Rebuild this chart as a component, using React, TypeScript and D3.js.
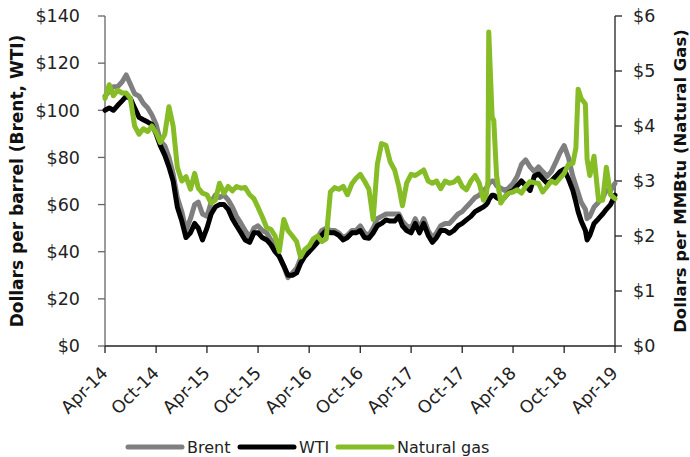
import React from "react";
import * as d3 from "d3";

// semi-monthly readings, plus a few extra weeks around the gas spikes
const dates = [
  // 2014
  "2014-04-01", "2014-04-16", "2014-05-01", "2014-05-16", "2014-06-01", "2014-06-16",
  "2014-07-01", "2014-07-16", "2014-08-01", "2014-08-16", "2014-09-01", "2014-09-16",
  "2014-10-01", "2014-10-16", "2014-11-01", "2014-11-16", "2014-12-01", "2014-12-16",
  // 2015
  "2015-01-01", "2015-01-16", "2015-02-01", "2015-02-16", "2015-03-01", "2015-03-16",
  "2015-04-01", "2015-04-16", "2015-05-01", "2015-05-16", "2015-06-01", "2015-06-16",
  "2015-07-01", "2015-07-16", "2015-08-01", "2015-08-16", "2015-09-01", "2015-09-16",
  "2015-10-01", "2015-10-16", "2015-11-01", "2015-11-16", "2015-12-01", "2015-12-16",
  // 2016
  "2016-01-01", "2016-01-16", "2016-02-01", "2016-02-16", "2016-03-01", "2016-03-16",
  "2016-04-01", "2016-04-16", "2016-05-01", "2016-05-16", "2016-06-01", "2016-06-16",
  "2016-07-01", "2016-07-16", "2016-08-01", "2016-08-16", "2016-09-01", "2016-09-16",
  "2016-10-01", "2016-10-16", "2016-11-01", "2016-11-16", "2016-12-01", "2016-12-16",
  // 2017
  "2017-01-01", "2017-01-16", "2017-02-01", "2017-02-16", "2017-03-01", "2017-03-16",
  "2017-04-01", "2017-04-16", "2017-05-01", "2017-05-16", "2017-06-01", "2017-06-16",
  "2017-07-01", "2017-07-16", "2017-08-01", "2017-08-16", "2017-09-01", "2017-09-16",
  "2017-10-01", "2017-10-16", "2017-11-01", "2017-11-16", "2017-12-01", "2017-12-16",
  "2017-12-26",
  // 2018
  "2018-01-01", "2018-01-04", "2018-01-16", "2018-01-22", "2018-02-01", "2018-02-16",
  "2018-03-01", "2018-03-16", "2018-04-01", "2018-04-16", "2018-05-01", "2018-05-16",
  "2018-06-01", "2018-06-16", "2018-07-01", "2018-07-16", "2018-08-01", "2018-08-16",
  "2018-09-01", "2018-09-16", "2018-10-01", "2018-10-16", "2018-11-01", "2018-11-12",
  "2018-11-20", "2018-12-01", "2018-12-16", "2018-12-22",
  // 2019
  "2019-01-01", "2019-01-16", "2019-02-01", "2019-02-16", "2019-03-01", "2019-03-16",
  "2019-04-01",
];

const brent = [
  106, 108, 110, 110, 112, 115, 111, 107, 106, 103, 101, 98, 94, 87, 85, 80, 73, 63,
  57, 49, 54, 60, 61, 56, 55, 61, 64, 63, 64, 62, 59, 55, 52, 49, 46, 50, 51, 49, 48, 45, 43, 38,
  34, 29, 31, 33, 37, 40, 41, 44, 46, 49, 50, 49, 49, 48, 46, 47, 49, 49, 51, 48, 47, 50, 54, 55,
  56, 56, 56, 56, 53, 51, 50, 54, 50, 54, 49, 46, 48, 51, 52, 52, 54, 56, 57, 59, 61, 63, 64, 66,
  67,
  68, 69, 70, 70, 68, 67, 66, 67, 69, 72, 77, 79, 76, 74, 76, 74, 72, 74, 78, 82, 85, 80, 72, 68,
  65, 61, 58, 54,
  55, 59, 61, 63, 66, 66, 69,
];

const wti = [
  100, 101, 100, 102, 104, 106, 105, 101, 97, 96, 95, 94, 90, 85, 81, 76, 70, 59,
  53, 46, 48, 52, 50, 45, 50, 56, 59, 60, 60, 58, 54, 51, 48, 45, 44, 48, 48, 46, 45, 43, 40, 38,
  34, 30, 30, 31, 35, 38, 40, 42, 44, 47, 49, 48, 48, 47, 45, 46, 48, 48, 49, 46, 45.7, 48, 51, 52,
  53.5, 53, 53, 55, 51, 49, 48, 52, 48, 52, 47, 44, 46, 49, 49, 47.8, 49, 51, 52, 53.5, 55, 57, 58, 59,
  60,
  61, 62, 64, 64, 63, 62, 63, 65, 66, 68, 70, 68, 66, 72, 73, 71, 69, 70, 72, 74, 75, 71, 66, 61,
  57, 53, 49, 45,
  47, 52, 54, 56, 58, 60, 64,
];

const gas = [
  4.5, 4.75, 4.55, 4.65, 4.6, 4.6, 4.5, 4.0, 3.85, 3.95, 3.9, 4.0, 3.88, 3.7, 3.85, 4.35, 4.0, 3.25,
  3.0, 3.08, 2.85, 3.14, 2.87, 2.78, 2.75, 2.6, 2.65, 2.96, 2.78, 2.9,
  2.82, 2.9, 2.87, 2.88, 2.75, 2.68, 2.52, 2.35, 2.15, 2.12, 2.0, 1.72,
  2.3, 2.1, 2.0, 1.9, 1.62, 1.75, 1.82, 1.95, 2.0, 1.9, 1.95, 2.8,
  2.88, 2.85, 2.9, 2.75, 2.95, 3.05, 3.12, 3.0, 2.85, 2.3, 3.3, 3.68,
  3.65, 3.35, 3.2, 2.9, 2.55, 2.96, 3.12, 3.1, 3.15, 3.2, 3.0, 2.96,
  3.0, 2.86, 3.0, 2.96, 2.98, 3.05, 2.9, 2.84, 3.0, 3.1, 2.96, 2.65,
  2.75,
  3.0, 5.71, 4.17, 4.1, 3.1, 2.6, 2.7, 2.78, 2.8, 2.84, 2.78, 2.9, 2.99, 2.97, 2.96, 2.8,
  2.9, 3.0, 2.96, 3.05, 3.14, 3.3, 3.32, 3.6, 4.67, 4.5, 4.4, 3.4,
  3.1, 3.45, 2.65, 2.65, 3.25, 2.75, 2.68,
];

const oilTicks = [0, 20, 40, 60, 80, 100, 120, 140];
const gasTicks = [0, 1, 2, 3, 4, 5, 6];
const monthTicks = [
  "2014-04-01", "2014-10-01", "2015-04-01", "2015-10-01", "2016-04-01", "2016-10-01",
  "2017-04-01", "2017-10-01", "2018-04-01", "2018-10-01", "2019-04-01",
];

const seriesNames = ["Brent", "WTI", "Natural gas"];
const seriesColors = ["#7f7f7f", "#000000", "#86bc25"];

const W = 690;
const H = 457;
const left = 105;
const right = 615;
const top = 16;
const bottom = 346;
const FONT = "'DejaVu Sans', Verdana, sans-serif";

const parse = d3.timeParse("%Y-%m-%d");
const fmt = d3.timeFormat("%b-%y");

export default function App() {
  const pts = dates.map((d) => parse(d) as Date);
  const x = d3
    .scaleTime()
    .domain([parse(monthTicks[0]) as Date, parse(monthTicks[monthTicks.length - 1]) as Date])
    .range([left, right]);
  const yOil = d3.scaleLinear().domain([0, 140]).range([bottom, top]);
  const yGas = d3.scaleLinear().domain([0, 6]).range([bottom, top]);

  const oilLine = d3
    .line<number>()
    .x((_, i) => x(pts[i]))
    .y((d) => yOil(d));
  const gasLine = d3
    .line<number>()
    .x((_, i) => x(pts[i]))
    .y((d) => yGas(d));

  const paths = [oilLine(brent), oilLine(wti), gasLine(gas)];

  // legend layout: swatch start x for each entry
  const legendX = [128, 240, 338];
  const legendY = 447;

  return (
    <svg
      width={W}
      height={H}
      style={{ position: "absolute", left: 0, top: 0, background: "#fff" }}
      fontFamily={FONT}
    >
      {/* left axis */}
      <line x1={left} x2={left} y1={top} y2={bottom} stroke="#666" strokeWidth={1.3} />
      {oilTicks.map((t) => (
        <g key={"l" + t}>
          <line x1={left - 7} x2={left} y1={yOil(t)} y2={yOil(t)} stroke="#666" strokeWidth={1.3} />
          <text x={left - 25} y={yOil(t)} dy="0.36em" textAnchor="end" fontSize={17.5} fill="#222">
            ${t}
          </text>
        </g>
      ))}
      {/* right axis */}
      <line x1={right} x2={right} y1={top} y2={bottom} stroke="#222" strokeWidth={1.3} />
      {gasTicks.map((t) => (
        <g key={"r" + t}>
          <line x1={right} x2={right + 7} y1={yGas(t)} y2={yGas(t)} stroke="#222" strokeWidth={1.3} />
          <text x={right + 18} y={yGas(t)} dy="0.36em" textAnchor="start" fontSize={17.5} fill="#222">
            ${t}
          </text>
        </g>
      ))}
      {/* bottom axis */}
      <line x1={left} x2={right} y1={bottom} y2={bottom} stroke="#222" strokeWidth={1.3} />
      {monthTicks.map((m) => {
        const xv = x(parse(m) as Date);
        return (
          <g key={m}>
            <line x1={xv} x2={xv} y1={bottom} y2={bottom + 7} stroke="#222" strokeWidth={1.3} />
            <text
              transform={`translate(${xv + 4},${bottom + 28}) rotate(-45)`}
              textAnchor="end"
              fontSize={17.5}
              fill="#222"
            >
              {fmt(parse(m) as Date)}
            </text>
          </g>
        );
      })}

      {/* axis titles */}
      <text
        transform={`translate(23,${(top + bottom) / 2}) rotate(-90)`}
        textAnchor="middle"
        fontSize={17}
        fontWeight="bold"
        fill="#111"
      >
        Dollars per barrel (Brent, WTI)
      </text>
      <text
        transform={`translate(686,${(top + bottom) / 2}) rotate(-90)`}
        textAnchor="middle"
        fontSize={16.5}
        fontWeight="bold"
        fill="#111"
      >
        Dollars per MMBtu (Natural Gas)
      </text>

      {/* series */}
      {paths.map((d, i) => (
        <path
          key={seriesNames[i]}
          d={d || ""}
          fill="none"
          stroke={seriesColors[i]}
          strokeWidth={5}
          strokeLinejoin="round"
          strokeLinecap="round"
        />
      ))}

      {/* legend */}
      {seriesNames.map((n, i) => (
        <g key={"lg" + n}>
          <line
            x1={legendX[i]}
            x2={legendX[i] + 54}
            y1={legendY}
            y2={legendY}
            stroke={seriesColors[i]}
            strokeWidth={5}
            strokeLinecap="round"
          />
          <text x={legendX[i] + 59} y={legendY} dy="0.36em" fontSize={16} fill="#222">
            {n}
          </text>
        </g>
      ))}
    </svg>
  );
}
